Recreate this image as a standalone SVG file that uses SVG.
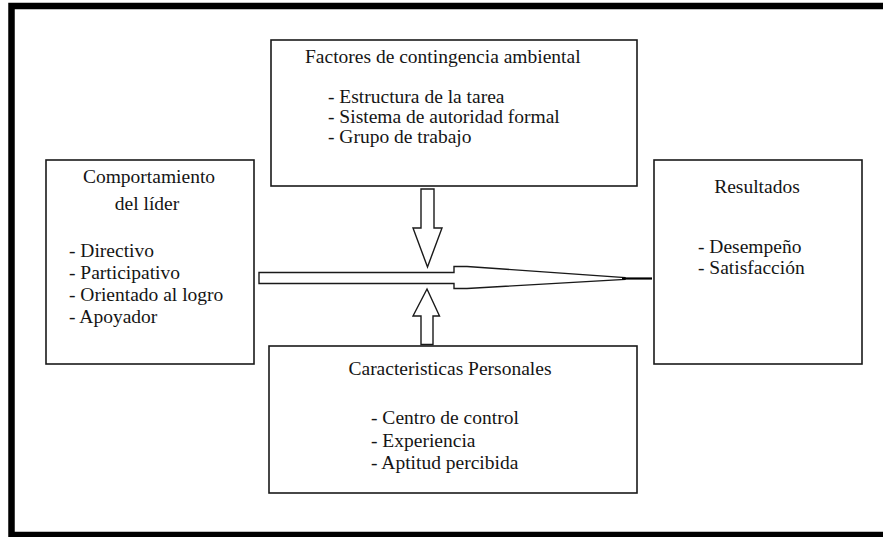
<svg xmlns="http://www.w3.org/2000/svg" width="883" height="537" viewBox="0 0 883 537">
<style>
.box{fill:#fff;stroke:#1a1a1a;stroke-width:1.6}
.arr{fill:#fff;stroke:#1a1a1a;stroke-width:1.4;stroke-linejoin:miter}
.t{font-family:'Liberation Serif','DejaVu Serif',serif;font-size:19.5px;fill:#151515}
.c{text-anchor:middle}
</style>
<rect width="883" height="537" fill="#fff"/>
<path d="M886,6 H11.5 V535 H886" fill="none" stroke="#000" stroke-width="6.5"/>
<g id="factores" class="t" font-family="Liberation Serif, serif">
<rect class="box" x="271" y="40" width="366" height="146"/>
<text x="305" y="63">Factores de contingencia ambiental</text>
<text x="328" y="102.5">- Estructura de la tarea</text>
<text x="328" y="122.5">- Sistema de autoridad formal</text>
<text x="328" y="142.5">- Grupo de trabajo</text>
</g>
<g id="comportamiento" class="t" font-family="Liberation Serif, serif">
<rect class="box" x="46" y="160" width="208" height="204"/>
<text class="c" x="149" y="183">Comportamiento</text>
<text class="c" x="147" y="210">del líder</text>
<text x="69" y="256.5">- Directivo</text>
<text x="69" y="278.5">- Participativo</text>
<text x="69" y="300.5">- Orientado al logro</text>
<text x="69" y="322.5">- Apoyador</text>
</g>
<g id="resultados" class="t" font-family="Liberation Serif, serif">
<rect class="box" x="654" y="160" width="208" height="204"/>
<text class="c" x="757" y="193">Resultados</text>
<text x="698" y="252.5">- Desempeño</text>
<text x="698" y="274">- Satisfacción</text>
</g>
<g id="caracteristicas" class="t" font-family="Liberation Serif, serif">
<rect class="box" x="269" y="346" width="368" height="147"/>
<text class="c" x="450" y="375">Caracteristicas Personales</text>
<text x="371" y="424">- Centro de control</text>
<text x="371" y="446.5">- Experiencia</text>
<text x="371" y="468.5">- Aptitud percibida</text>
</g>
<g id="connectors">
<polygon class="arr" points="421,189 434,189 434,228 442,228 427.5,267 413,228 421,228"/>
<polygon class="arr" points="427,289 439.5,316 433,316 433,344.5 421,344.5 421,316 413,316"/>
<polygon class="arr" points="259,272.5 454,272.5 454,266.5 467,266.5 625,277.6 625,279.4 467,288.5 454,288.5 454,283.5 259,283.5"/>
<line x1="622" y1="278.5" x2="652" y2="278.5" stroke="#000" stroke-width="2.2"/>
</g>
</svg>
